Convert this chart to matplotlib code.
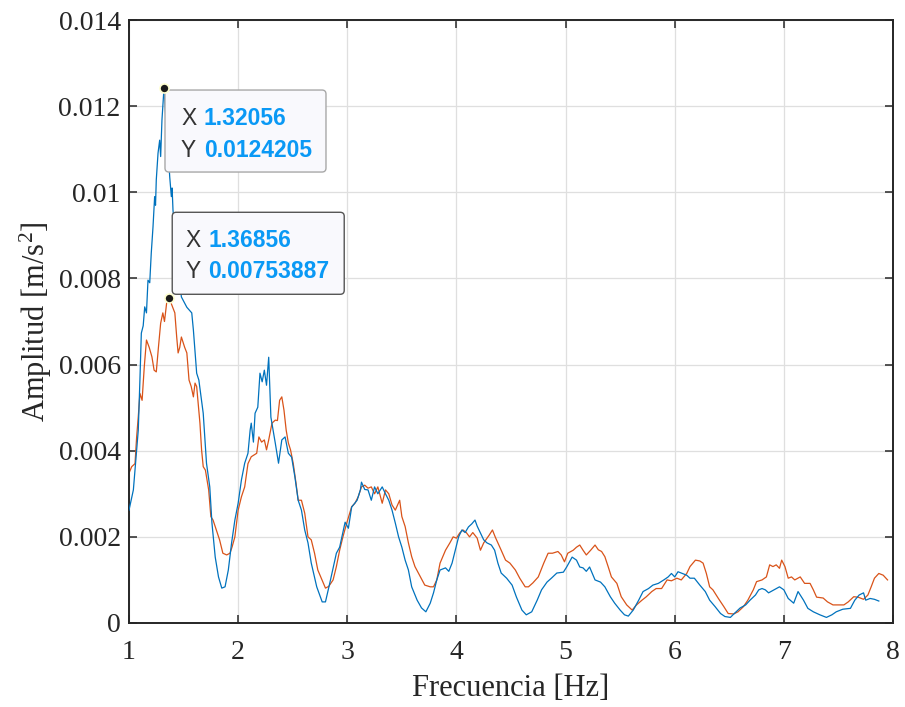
import matplotlib
matplotlib.use("Agg")
import matplotlib.pyplot as plt
from matplotlib.patches import FancyBboxPatch
from matplotlib.transforms import IdentityTransform

# blue spectrum (frequency [Hz], amplitude [m/s^2])
freq_a = [1.00, 1.04, 1.055, 1.085, 1.10, 1.113, 1.13, 1.144, 1.16, 1.174, 1.19, 1.204, 1.22, 1.235,
          1.243, 1.25, 1.266, 1.281, 1.29, 1.302, 1.3206, 1.342, 1.357, 1.373, 1.388, 1.395, 1.403,
          1.44, 1.48, 1.53, 1.575, 1.59, 1.62, 1.64, 1.68, 1.71, 1.74,
          1.76, 1.79, 1.82, 1.85, 1.88, 1.91, 1.94, 1.97, 2.00, 2.03, 2.06, 2.09, 2.11, 2.12, 2.14,
          2.155, 2.18, 2.20, 2.22, 2.24, 2.26, 2.28, 2.30, 2.32, 2.34, 2.37, 2.40, 2.43, 2.46, 2.49,
          2.52, 2.55, 2.58, 2.61, 2.64, 2.67, 2.72, 2.77, 2.80, 2.84, 2.90, 2.93, 2.98, 3.01, 3.04,
          3.09, 3.12, 3.13, 3.16, 3.19, 3.22, 3.25, 3.28, 3.32, 3.35, 3.38, 3.41, 3.44, 3.47, 3.50,
          3.53, 3.56, 3.59, 3.64, 3.68, 3.72, 3.76, 3.79, 3.82, 3.85, 3.90, 3.93, 3.96, 3.99, 4.02,
          4.05, 4.08, 4.11, 4.14, 4.17, 4.19, 4.22, 4.25, 4.28, 4.32, 4.35, 4.38, 4.41, 4.46, 4.51,
          4.55, 4.60, 4.64, 4.69, 4.74, 4.78, 4.83, 4.87, 4.92, 4.98, 5.01, 5.06, 5.10, 5.13, 5.16,
          5.19, 5.22, 5.27, 5.32, 5.36, 5.41, 5.45, 5.50, 5.54, 5.575, 5.62, 5.67, 5.71, 5.76, 5.80,
          5.85, 5.90, 5.94, 5.97, 6.00, 6.03, 6.07, 6.11, 6.14, 6.18, 6.23, 6.28, 6.32, 6.37, 6.42,
          6.46, 6.51, 6.55, 6.60, 6.65, 6.69, 6.74, 6.77, 6.80, 6.83, 6.86, 6.91, 6.96, 7.00, 7.04,
          7.09, 7.13, 7.18, 7.22, 7.27, 7.33, 7.39, 7.44, 7.48, 7.54, 7.61, 7.65, 7.69, 7.73, 7.75,
          7.79, 7.83, 7.87]
amp_a = [0.00262, 0.00309, 0.00355, 0.00448, 0.00564, 0.00673, 0.0069, 0.00734, 0.0072, 0.00796,
         0.0079, 0.00859, 0.0092, 0.0099, 0.0097, 0.01029, 0.01091, 0.01121, 0.01083, 0.01168,
         0.0124205, 0.01152, 0.01106, 0.01036, 0.0099, 0.0101, 0.00959,
         0.0085, 0.00757,
         0.00733, 0.0072, 0.0068, 0.0058, 0.00564, 0.00487, 0.00371, 0.00316, 0.00232, 0.00153,
         0.00107, 0.00081, 0.00084, 0.00123, 0.00186, 0.00239, 0.00278, 0.00332, 0.00371, 0.00394,
         0.00448, 0.00464, 0.0042, 0.00487, 0.00501, 0.0058, 0.0056, 0.00587, 0.00552, 0.00617,
         0.00478, 0.00448, 0.00418, 0.00371, 0.00425, 0.00432, 0.00394, 0.00385, 0.00339, 0.00285,
         0.00262, 0.00216, 0.00186, 0.00139, 0.00084, 0.00049, 0.00049, 0.00093, 0.00162, 0.00176,
         0.00234, 0.0022, 0.00269, 0.00285, 0.00309, 0.00327, 0.0031, 0.00309, 0.00285, 0.00316,
         0.003, 0.00316, 0.003, 0.00285, 0.00262, 0.00232, 0.002, 0.00176, 0.00146, 0.00123,
         0.00084, 0.00053, 0.00035, 0.00026, 0.00046, 0.0007, 0.001, 0.00123, 0.00128, 0.0012,
         0.00139, 0.00169, 0.002, 0.00216, 0.0021, 0.00223, 0.0023, 0.00239, 0.00225, 0.00209,
         0.00193, 0.00186, 0.00181, 0.00169, 0.00139, 0.00116, 0.00104, 0.00088, 0.0006, 0.0003,
         0.00019, 0.00026, 0.00053, 0.00077, 0.00095, 0.00104, 0.00116, 0.00118, 0.0013, 0.00153,
         0.00146, 0.0013, 0.00128, 0.0012, 0.0013, 0.001, 0.00095, 0.00084, 0.00061, 0.00046,
         0.0003, 0.00019, 0.00016, 0.0003, 0.00053, 0.00073, 0.0008, 0.00088, 0.00092, 0.001,
         0.00107, 0.00115, 0.00107, 0.00119, 0.00115, 0.00111, 0.00104, 0.00104, 0.00088, 0.00073,
         0.00053, 0.00038, 0.00022, 0.00015, 0.00013, 0.00023, 0.00035, 0.00042, 0.00053, 0.00065,
         0.00077, 0.0008, 0.00077, 0.0007, 0.00077, 0.00084, 0.00077, 0.00057, 0.00046, 0.00073,
         0.00053, 0.00034, 0.00026, 0.00019, 0.00013, 0.00019, 0.00026, 0.00032, 0.00034, 0.00053,
         0.00065, 0.0007, 0.00053, 0.00057, 0.00055, 0.00051]

# orange spectrum
freq_b = [1.00, 1.025, 1.055, 1.07, 1.085, 1.10, 1.12, 1.14, 1.16, 1.185, 1.21, 1.23, 1.25, 1.27,
          1.29, 1.31, 1.325, 1.345, 1.3686, 1.39, 1.42, 1.437, 1.45, 1.465, 1.48, 1.51, 1.53, 1.55,
          1.57, 1.59, 1.605, 1.62, 1.65, 1.665, 1.68, 1.70, 1.73, 1.75, 1.77, 1.80, 1.83, 1.86,
          1.895, 1.925, 1.945, 1.97, 2.00, 2.03, 2.06, 2.09, 2.12, 2.17, 2.19, 2.215, 2.24, 2.26,
          2.28, 2.31, 2.34, 2.36, 2.38, 2.40, 2.42, 2.44, 2.46, 2.48, 2.505, 2.53, 2.55, 2.58, 2.61,
          2.64, 2.67, 2.70, 2.73, 2.78, 2.80, 2.83, 2.87, 2.90, 2.93, 2.96, 2.995, 3.04, 3.07, 3.10,
          3.13, 3.16, 3.19, 3.22, 3.25, 3.28, 3.32, 3.35, 3.38, 3.41, 3.44, 3.48, 3.50, 3.53, 3.56,
          3.59, 3.62, 3.67, 3.71, 3.76, 3.79, 3.82, 3.85, 3.90, 3.94, 3.97, 4.00, 4.03, 4.06, 4.09,
          4.12, 4.15, 4.19, 4.22, 4.25, 4.28, 4.30, 4.33, 4.355, 4.38, 4.41, 4.45, 4.49, 4.54, 4.58,
          4.63, 4.66, 4.70, 4.75, 4.80, 4.84, 4.88, 4.93, 4.96, 4.99, 5.02, 5.07, 5.10, 5.13, 5.16,
          5.19, 5.23, 5.27, 5.30, 5.33, 5.36, 5.39, 5.42, 5.47, 5.51, 5.56, 5.61, 5.65, 5.70, 5.74,
          5.79, 5.83, 5.88, 5.93, 5.97, 6.02, 6.06, 6.11, 6.14, 6.19, 6.23, 6.26, 6.29, 6.32, 6.35,
          6.40, 6.45, 6.49, 6.54, 6.58, 6.63, 6.67, 6.72, 6.75, 6.80, 6.84, 6.87, 6.90, 6.93, 6.96,
          6.98, 7.01, 7.04, 7.07, 7.10, 7.15, 7.19, 7.24, 7.27, 7.30, 7.36, 7.40, 7.45, 7.51, 7.55,
          7.59, 7.64, 7.68, 7.73, 7.77, 7.80, 7.83, 7.87, 7.91, 7.95]
amp_b = [0.00348, 0.00363, 0.0037, 0.00432, 0.00479, 0.00533, 0.00517, 0.00595, 0.00657, 0.0064,
         0.00618, 0.00587, 0.00583, 0.00641, 0.00696, 0.0072, 0.007, 0.00743, 0.00753887, 0.0074,
         0.0072, 0.00664, 0.00627, 0.0064, 0.00664, 0.0064, 0.00627, 0.00564, 0.00549, 0.00525,
         0.00557, 0.00549, 0.00464, 0.00402, 0.00363, 0.00355, 0.00309, 0.00247, 0.00239, 0.00216,
         0.00193, 0.00162, 0.00158, 0.00162, 0.00177, 0.002, 0.00262, 0.00293, 0.00316, 0.0037,
         0.00386, 0.00394, 0.00432, 0.0042, 0.00425, 0.00402, 0.00425, 0.00464, 0.00471, 0.0047,
         0.00517, 0.00525, 0.00494, 0.00448, 0.00418, 0.00402, 0.0037, 0.00325, 0.00285, 0.00285,
         0.00255, 0.002, 0.00193, 0.00162, 0.00123, 0.00093, 0.00081, 0.00085, 0.001, 0.00131,
         0.00169, 0.002, 0.00232, 0.0027, 0.00278, 0.00293, 0.00316, 0.0032, 0.00313, 0.00316,
         0.003, 0.00316, 0.00278, 0.00309, 0.003, 0.00274, 0.00262, 0.00285, 0.00247, 0.00224,
         0.00186, 0.00154, 0.00131, 0.00107, 0.00088, 0.00084, 0.00084, 0.001, 0.00139, 0.00169,
         0.00186, 0.002, 0.00197, 0.00209, 0.00216, 0.0021, 0.002, 0.0021, 0.00197, 0.00169,
         0.00186, 0.00197, 0.00204, 0.00216, 0.002, 0.00186, 0.00169, 0.00146, 0.00139, 0.00123,
         0.00104, 0.00084, 0.00084, 0.00093, 0.00107, 0.00139, 0.00162, 0.00162, 0.00166, 0.00158,
         0.00142, 0.00162, 0.00169, 0.00176, 0.00181, 0.00169, 0.00158, 0.00169, 0.00181, 0.0017,
         0.00166, 0.00154, 0.00131, 0.00107, 0.00092, 0.00061, 0.00042, 0.0003, 0.00042, 0.00053,
         0.00061, 0.00073, 0.0008, 0.0008, 0.001, 0.00098, 0.00104, 0.001, 0.00115, 0.00131,
         0.00146, 0.00144, 0.00139, 0.00115, 0.00084, 0.00077, 0.00057, 0.00038, 0.00022, 0.00021,
         0.00026, 0.00038, 0.00053, 0.00077, 0.00096, 0.001, 0.00107, 0.00135, 0.00131, 0.00135,
         0.00127, 0.00146, 0.00131, 0.00104, 0.00107, 0.001, 0.00107, 0.00092, 0.00092, 0.00077,
         0.0006, 0.00058, 0.00049, 0.00042, 0.00042, 0.00042, 0.00049, 0.00061, 0.0006, 0.00055,
         0.00065, 0.00084, 0.00104, 0.00115, 0.00111, 0.001]

# data tips
tip_x = [1.32056, 1.36856]
tip_y = [0.0124205, 0.00753887]
tip_xtxt = ["1.32056", "1.36856"]
tip_ytxt = ["0.0124205", "0.00753887"]

yticks = [0, 0.002, 0.004, 0.006, 0.008, 0.01, 0.012, 0.014]
ylabels = ["0", "0.002", "0.004", "0.006", "0.008", "0.01", "0.012", "0.014"]

plt.rcParams['font.family'] = 'Liberation Serif'
plt.rcParams['mathtext.fontset'] = 'custom'
plt.rcParams['mathtext.rm'] = 'Liberation Serif'
plt.rcParams['mathtext.it'] = 'Liberation Serif:italic'

fig = plt.figure(figsize=(9.05, 7.07), dpi=100)
ax = fig.add_axes([129 / 905, 1 - 623 / 707, (893 - 129) / 905, (623 - 20) / 707])

ax.plot(freq_a, amp_a, color='#0072BD', lw=0.9, zorder=3)
ax.plot(freq_b, amp_b, color='#D95319', lw=0.9, zorder=2)

ax.set_xlim(1, 8)
ax.set_ylim(0, 0.014)
ax.set_yticks(yticks)
ax.set_yticklabels(ylabels)
ax.set_xticks(range(1, 9))
ax.grid(True, color='#DFDFDF', lw=0.9)
ax.set_axisbelow(True)
ax.tick_params(direction='in', length=6, width=1.1, top=True, right=True,
               labelsize=20, colors='#262626')
ax.tick_params(axis='x', pad=12)
ax.tick_params(axis='y', pad=6)
for s in ax.spines.values():
    s.set_linewidth(1.4)
    s.set_color('#262626')
ax.set_xlabel('Frecuencia [Hz]', fontsize=22, color='#262626', labelpad=7)
ax.set_ylabel('Amplitud [m/s$^2$]', fontsize=22, color='#262626', labelpad=3)

# data tips: box offsets in pixels relative to the marked point
fig.canvas.draw()
boxes = [(1, -84, 161, 82, '#A8A8A8'), (3, 4, 172, 82, '#555555')]
lines = [((16, -30), (16, -62)), ((13, 58), (13, 27))]
for i in range(2):
    px, py = ax.transData.transform((tip_x[i], tip_y[i]))
    dx, dy, w, h, ec = boxes[i]
    box = FancyBboxPatch((px + dx, py + dy), w, h, boxstyle='round,pad=0,rounding_size=4',
                         transform=IdentityTransform(), fc='#F9F9FD', ec=ec, lw=1.0,
                         zorder=5, clip_on=False)
    ax.add_artist(box)
    for (lx, ly), lab, val in zip(lines[i], ['X', 'Y'], [tip_xtxt[i], tip_ytxt[i]]):
        ax.annotate(lab, (tip_x[i], tip_y[i]), xytext=(dx + lx, ly), textcoords='offset pixels',
                    fontsize=16.5, family='Liberation Sans', color='#333333', va='center',
                    ha='left', zorder=6)
        ax.annotate(val, (tip_x[i], tip_y[i]), xytext=(dx + lx + 23, ly), textcoords='offset pixels',
                    fontsize=16.5, family='Liberation Sans', color='#0A99F5', weight='bold',
                    va='center', ha='left', zorder=6)
    ax.plot(tip_x[i], tip_y[i], 'o', ms=6.5, mfc='#1A1A1A', mec='#FFFFD0', mew=1.2,
            zorder=7, clip_on=False)

fig.savefig('out.png', dpi=100)
